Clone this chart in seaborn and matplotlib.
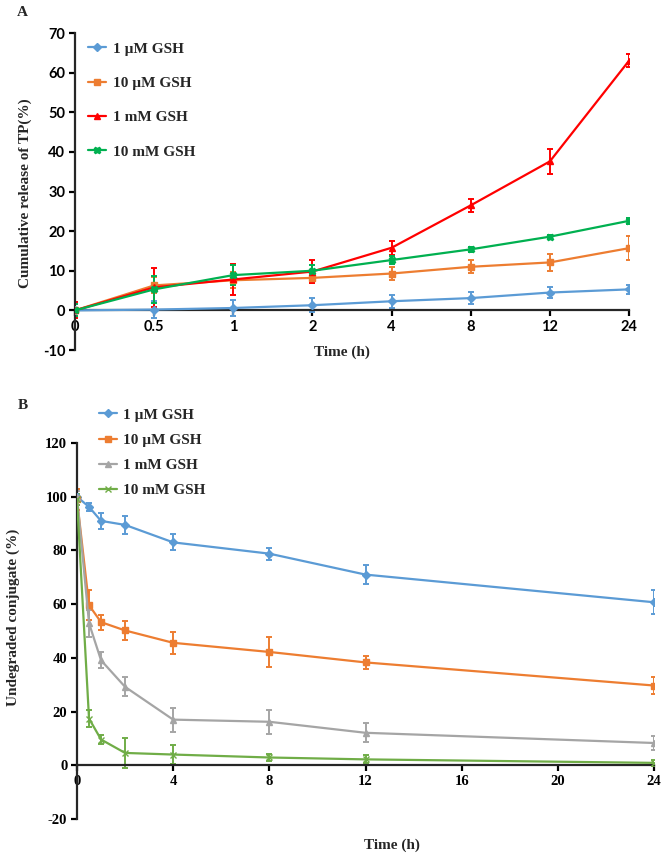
import matplotlib
matplotlib.use("Agg")
import matplotlib.pyplot as plt
import numpy as np
import seaborn as sns

# ── data ────────────────────────────────────────────────────────────────────
time_labels_a = ["0", "0.5", "1", "2", "4", "8", "12", "24"]
time_b = [0, 0.5, 1, 2, 4, 8, 12, 24]

series_a = ["1 µM GSH", "10 µM GSH", "1 mM GSH", "10 mM GSH"]
release_1uM = [0, 0.2, 0.6, 1.3, 2.3, 3.1, 4.5, 5.3]
release_1uM_err = [2.0, 2.2, 2.0, 1.8, 1.6, 1.6, 1.4, 1.2]
release_10uM = [0, 6.3, 7.6, 8.2, 9.3, 11.0, 12.1, 15.7]
release_10uM_err = [1.5, 2.0, 2.0, 1.3, 1.6, 1.6, 2.2, 3.0]
release_1mM = [0, 5.8, 7.8, 9.8, 15.8, 26.5, 37.6, 63.0]
release_1mM_err = [2.0, 5.0, 3.8, 3.0, 1.8, 1.7, 3.2, 1.6]
release_10mM = [0, 5.3, 8.9, 10.0, 12.7, 15.4, 18.6, 22.6]
release_10mM_err = [1.5, 3.5, 2.5, 1.5, 1.0, 0.6, 0.5, 0.8]

series_b = ["1 µM GSH", "10 µM GSH", "1 mM GSH", "10 mM GSH"]
undeg_1uM = [100, 96.2, 91.0, 89.5, 83.0, 78.8, 71.0, 60.7]
undeg_1uM_err = [3.0, 1.5, 3.0, 3.5, 3.0, 2.2, 3.5, 4.5]
undeg_10uM = [99.0, 59.6, 53.3, 50.2, 45.6, 42.2, 38.3, 29.7]
undeg_10uM_err = [4.0, 5.5, 2.8, 3.5, 4.2, 5.5, 2.5, 3.0]
undeg_1mM = [100, 52.9, 39.1, 29.2, 17.0, 16.2, 12.1, 8.3]
undeg_1mM_err = [2.0, 5.0, 3.0, 3.5, 4.5, 4.5, 3.5, 2.5]
undeg_10mM = [99.0, 17.4, 9.6, 4.6, 4.0, 2.9, 2.2, 0.9]
undeg_10mM_err = [2.0, 3.0, 1.8, 5.5, 3.5, 1.2, 1.5, 1.2]

colors_a = ["#5B9BD5", "#ED7D31", "#FF0000", "#00B050"]
colors_b = ["#5B9BD5", "#ED7D31", "#A5A5A5", "#70AD47"]
markers_a = ["D", "s", "^", "X"]
markers_b = ["D", "s", "^", "x"]

SERIF = "Liberation Serif"
SANS = "Lato"

sns.set_style("ticks")
plt.rcParams["font.family"] = [SERIF, "DejaVu Serif"]
plt.rcParams["axes.unicode_minus"] = False

fig = plt.figure(figsize=(6.66, 8.58), dpi=100)
ax1 = fig.add_axes([75 / 666, 1 - 350 / 858, 554 / 666, 317 / 858])
ax2 = fig.add_axes([77 / 666, 1 - 819 / 858, 577 / 666, 376 / 858])


def style_axis(ax, tick_family, size):
    for s in ("top", "right"):
        ax.spines[s].set_visible(False)
    ax.spines["left"].set_linewidth(1.6)
    ax.spines["bottom"].set_linewidth(1.6)
    ax.spines["bottom"].set_position(("data", 0))
    ax.tick_params(axis="both", direction="out", length=4, width=1.6,
                   colors="black", pad=3)
    for lab in ax.get_xticklabels() + ax.get_yticklabels():
        lab.set_fontfamily(tick_family)
        lab.set_fontweight("bold")
        lab.set_fontsize(size)
    ax.set_xlabel("")
    ax.set_ylabel("")


# ── panel A ─────────────────────────────────────────────────────────────────
pos_a = np.arange(len(time_labels_a))
vals_a = [release_1uM, release_10uM, release_1mM, release_10mM]
errs_a = [release_1uM_err, release_10uM_err, release_1mM_err, release_10mM_err]
for name, v, e, c, m in zip(series_a, vals_a, errs_a, colors_a, markers_a):
    ax1.errorbar(pos_a, v, yerr=e, fmt="none", ecolor=c, elinewidth=1.4,
                 capsize=2, capthick=1.4, zorder=2)
    sns.lineplot(x=pos_a, y=v, ax=ax1, color=c, marker=m, markersize=4.5,
                 markeredgecolor=c, markeredgewidth=1, linewidth=1.6,
                 label=name, zorder=3)

ax1.set_xlim(0, 7)
ax1.set_ylim(-10, 70)
ax1.set_xticks(pos_a)
ax1.set_xticklabels(time_labels_a)
ax1.set_yticks(np.arange(-10, 71, 10))
style_axis(ax1, SANS, 10.5)
ax1.legend(loc="upper left", bbox_to_anchor=(88 / 666, 1 - 42 / 858),
           bbox_transform=fig.transFigure, frameon=False, borderpad=0,
           borderaxespad=0, labelspacing=1.35, handlelength=1.15,
           handletextpad=0.5, prop={"family": SERIF, "weight": "bold", "size": 11})

# ── panel B ─────────────────────────────────────────────────────────────────
vals_b = [undeg_1uM, undeg_10uM, undeg_1mM, undeg_10mM]
errs_b = [undeg_1uM_err, undeg_10uM_err, undeg_1mM_err, undeg_10mM_err]
for name, v, e, c, m in zip(series_b, vals_b, errs_b, colors_b, markers_b):
    ax2.errorbar(time_b, v, yerr=e, fmt="none", ecolor=c, elinewidth=1.4,
                 capsize=2, capthick=1.4, zorder=2)
    sns.lineplot(x=time_b, y=v, ax=ax2, color=c, marker=m, markersize=4,
                 markeredgecolor=c, markeredgewidth=1, linewidth=1.6,
                 label=name, zorder=3)

ax2.set_xlim(0, 24)
ax2.set_ylim(-20, 120)
ax2.set_xticks(np.arange(0, 25, 4))
ax2.set_yticks(np.arange(-20, 121, 20))
style_axis(ax2, SERIF, 10.5)
ax2.legend(loc="upper left", bbox_to_anchor=(99 / 666, 1 - 408 / 858),
           bbox_transform=fig.transFigure, frameon=False, borderpad=0,
           borderaxespad=0, labelspacing=0.75, handlelength=1.15,
           handletextpad=0.45, prop={"family": SERIF, "weight": "bold", "size": 11})

# ── labels ──────────────────────────────────────────────────────────────────
lbl = dict(family=SERIF, weight="bold", size=11)
fig.text(22 / 666, 1 - 13 / 858, "A", ha="center", va="center", **lbl)
fig.text(23 / 666, 1 - 405 / 858, "B", ha="center", va="center", **lbl)
fig.text(342 / 666, 1 - 352 / 858, "Time (h)", ha="center", va="center", **lbl)
fig.text(392 / 666, 1 - 845 / 858, "Time (h)", ha="center", va="center", **lbl)
fig.text(25 / 666, 1 - 193 / 858, "Cumulative release of TP(%)", rotation=90,
         ha="center", va="center", **lbl)
fig.text(13 / 666, 1 - 617 / 858, "Undegraded conjugate (%)", rotation=90,
         ha="center", va="center", **lbl)

fig.savefig("out.png", dpi=100)
plt.close(fig)
